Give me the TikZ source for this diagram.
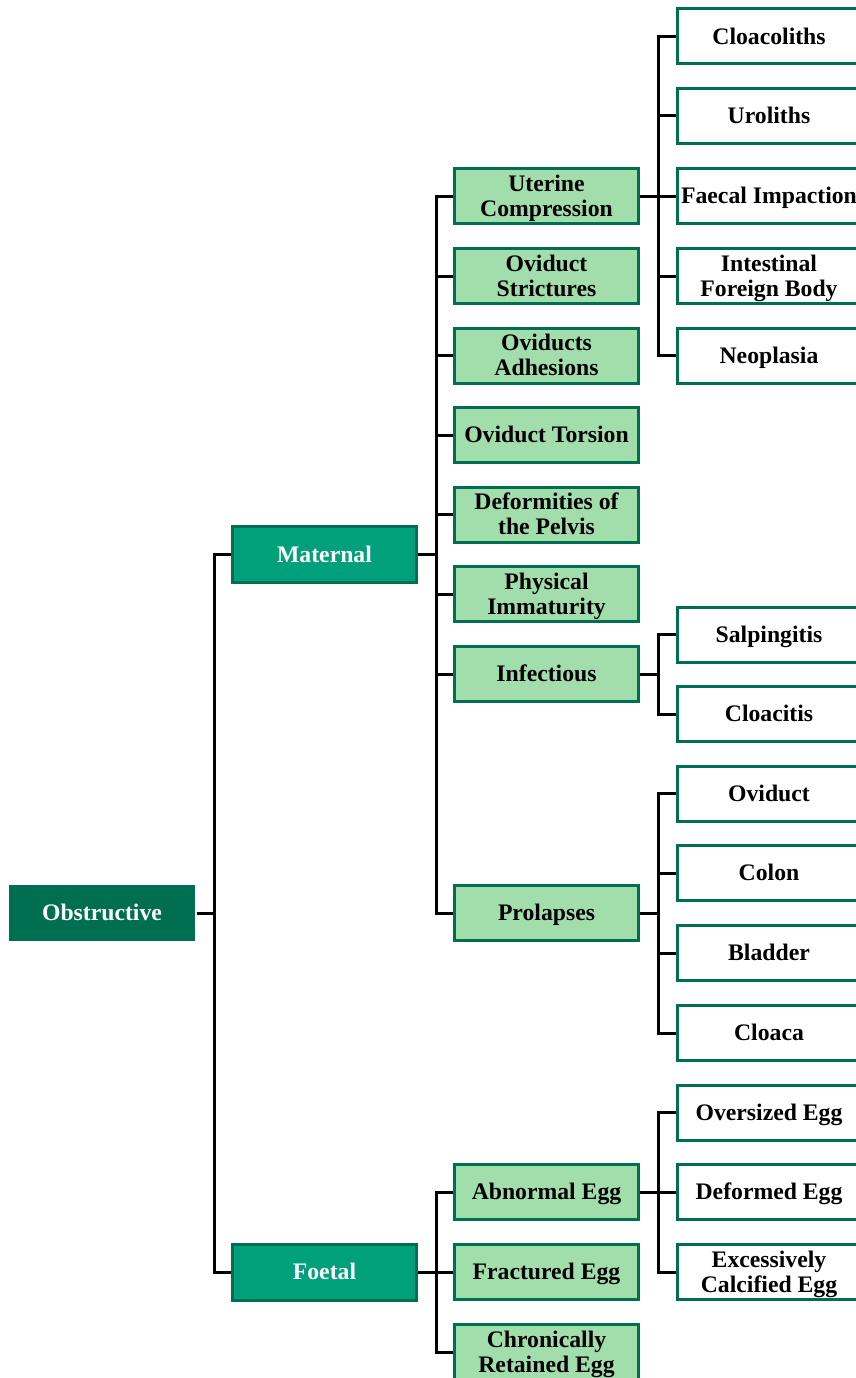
\documentclass[tikz,border=0pt]{standalone}
\usepackage{fontspec}
\setmainfont{Liberation Serif}
\usetikzlibrary{backgrounds}
\definecolor{gdark}{HTML}{006F51}
\definecolor{gmid}{HTML}{00A07B}
\definecolor{glight}{HTML}{A1DEAB}
\begin{document}
\begin{tikzpicture}[x=1pt,y=-1pt,
  base/.style={font=\fontsize{23.7}{25}\selectfont\bfseries, align=center, inner sep=0pt, line width=3pt, text height=15.7pt, text depth=0pt},
  twol/.style={text height=40.7pt, text depth=0pt},
  rootbox/.style={base, fill=gdark, text=white, minimum width=186pt, minimum height=56pt},
  midbox/.style={base, draw=gdark, fill=gmid, text=white, minimum width=184pt, minimum height=56pt},
  subbox/.style={base, draw=gdark, fill=glight, text=black, minimum width=184pt, minimum height=55pt},
  leafbox/.style={base, draw=gdark, fill=white, text=black, minimum width=184pt, minimum height=55pt},
  conn/.style={line width=3pt, black}
]
\useasboundingbox (0,0) rectangle (856,1378);
\clip (0,0) rectangle (856,1378);
% root
\node[rootbox] (obs) at (102,913) {Obstructive};
% level 1
\node[midbox] (mat) at (324.5,554.5) {Maternal};
\node[midbox] (foe) at (324.5,1272) {Foetal};
% level 2 maternal
\node[subbox,twol] (ute) at (546.5,196) {Uterine\\Compression};
\node[subbox,twol] (ovs) at (546.5,276) {Oviduct\\Strictures};
\node[subbox,twol] (ova) at (546.5,355.5) {Oviducts\\Adhesions};
\node[subbox] (ovt) at (546.5,435) {Oviduct Torsion};
\node[subbox,twol] (def) at (546.5,514.5) {Deformities of\\the Pelvis};
\node[subbox,twol] (phy) at (546.5,594) {Physical\\Immaturity};
\node[subbox] (inf) at (546.5,674) {Infectious};
\node[subbox] (pro) at (546.5,913) {Prolapses};
% level 2 foetal
\node[subbox] (abn) at (546.5,1192) {Abnormal Egg};
\node[subbox] (fra) at (546.5,1272) {Fractured Egg};
\node[subbox,twol] (chr) at (546.5,1352) {Chronically\\Retained Egg};
% level 3
\node[leafbox] (clo) at (769,36.5) {Cloacoliths};
\node[leafbox] (uro) at (769,116) {Uroliths};
\node[leafbox] (fae) at (769,196) {Faecal Impaction};
\node[leafbox,twol] (int) at (769,276) {Intestinal\\Foreign Body};
\node[leafbox] (neo) at (769,355.5) {Neoplasia};
\node[leafbox] (sal) at (769,634.5) {Salpingitis};
\node[leafbox] (cla) at (769,714) {Cloacitis};
\node[leafbox] (ovi) at (769,793.5) {Oviduct};
\node[leafbox] (col) at (769,873) {Colon};
\node[leafbox] (bla) at (769,953) {Bladder};
\node[leafbox] (clc) at (769,1033) {Cloaca};
\node[leafbox] (ove) at (769,1112.5) {Oversized Egg};
\node[leafbox] (dfe) at (769,1192) {Deformed Egg};
\node[leafbox,twol] (exc) at (769,1272) {Excessively\\Calcified Egg};
% connectors
\begin{scope}[on background layer]
\foreach \c in {mat,foe} \draw[conn] (obs.east) -- ++(18,0) |- (\c.west);
\foreach \c in {ute,ovs,ova,ovt,def,phy,inf,pro} \draw[conn] (mat.east) -- ++(18,0) |- (\c.west);
\foreach \c in {abn,fra,chr} \draw[conn] (foe.east) -- ++(18,0) |- (\c.west);
\foreach \c in {clo,uro,fae,int,neo} \draw[conn] (ute.east) -- ++(18,0) |- (\c.west);
\foreach \c in {sal,cla} \draw[conn] (inf.east) -- ++(18,0) |- (\c.west);
\foreach \c in {ovi,col,bla,clc} \draw[conn] (pro.east) -- ++(18,0) |- (\c.west);
\foreach \c in {ove,dfe,exc} \draw[conn] (abn.east) -- ++(18,0) |- (\c.west);
\end{scope}
\end{tikzpicture}
\end{document}
